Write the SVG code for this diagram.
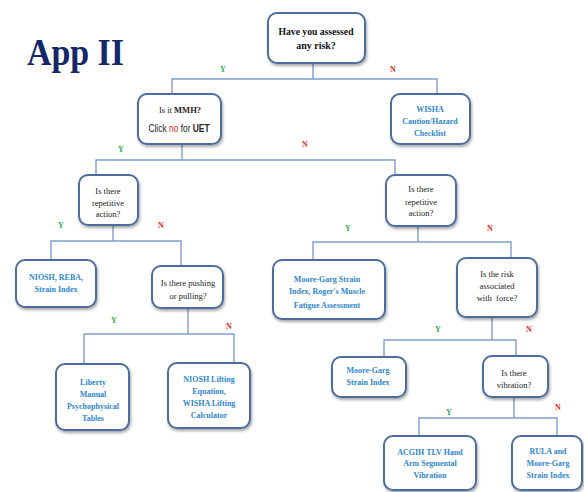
<svg xmlns="http://www.w3.org/2000/svg" width="584" height="492" viewBox="0 0 584 492">
  <defs>
    <filter id="shadow" x="-20%" y="-20%" width="140%" height="150%">
      <feDropShadow dx="1" dy="2" stdDeviation="1.6" flood-color="#000" flood-opacity="0.35"/>
    </filter>
  </defs>
  <style>
    .box { fill: #ffffff; stroke: #4d6d9c; stroke-width: 2; filter: url(#shadow); }
    .wire { stroke: #7f9fcf; stroke-width: 1.4; fill: none; }
    .q { font-family: "Liberation Serif", "Times New Roman", serif; font-size: 8.5px; fill: #222222; text-anchor: middle; }
    .tool { font-family: "Liberation Serif", "Times New Roman", serif; font-size: 8px; font-weight: bold; fill: #2f86d0; text-anchor: middle; }
    .y { font-family: "Liberation Serif", serif; font-size: 8px; font-weight: bold; fill: #2eb04f; text-anchor: middle; }
    .n { font-family: "Liberation Serif", serif; font-size: 8px; font-weight: bold; fill: #ee2a2a; text-anchor: middle; }
    .uet { font-family: "Liberation Sans", Arial, sans-serif; font-size: 10.5px; fill: #222222; text-anchor: middle; }
    .red { fill: #ee2222; }
  </style>
  <rect width="584" height="492" fill="#ffffff"/>

  <!-- title -->
  <text x="27" y="65" font-family="Liberation Serif, Times New Roman, serif" font-size="37" font-weight="bold" fill="#13276a" textLength="97" lengthAdjust="spacingAndGlyphs">App II</text>

  <!-- connectors -->
  <g id="connectors">
    <path class="wire" d="M313 63V79M172 94V79H437V94"/>
    <path class="wire" d="M182 144V160M96 175V160H395V175"/>
    <path class="wire" d="M113 225V241M51 260V241H181V266"/>
    <path class="wire" d="M188 308V334M84 364V334H234V363"/>
    <path class="wire" d="M418 226V242M313 260V242H511V258"/>
    <path class="wire" d="M492 317V340M384 357V340H516V356"/>
    <path class="wire" d="M514 397V418M419 436V418H557V436"/>
    <text class="y" x="223" y="72">Y</text>
    <text class="n" x="393" y="72">N</text>
    <text class="y" x="121" y="152">Y</text>
    <text class="n" x="305" y="147">N</text>
    <text class="y" x="61" y="228">Y</text>
    <text class="n" x="161" y="228">N</text>
    <text class="y" x="114" y="323">Y</text>
    <text class="n" x="229" y="329">N</text>
    <text class="y" x="348" y="231">Y</text>
    <text class="n" x="490" y="231">N</text>
    <text class="y" x="438" y="332">Y</text>
    <text class="n" x="529" y="332">N</text>
    <text class="y" x="449" y="415">Y</text>
    <text class="n" x="558" y="410">N</text>
  </g>

  <!-- decision and tool nodes -->
  <g id="n-assessed">
    <rect class="box" x="268" y="13" width="97" height="50" rx="9"/>
    <text x="316" y="35" font-family="Liberation Serif, serif" font-size="10" font-weight="bold" fill="#111111" text-anchor="middle" textLength="75" lengthAdjust="spacingAndGlyphs">Have you assessed</text>
    <text x="316" y="49" font-family="Liberation Serif, serif" font-size="10" font-weight="bold" fill="#111111" text-anchor="middle">any risk?</text>
  </g>

  <g id="n-mmh">
    <rect class="box" x="138" y="94" width="83" height="50" rx="9"/>
    <text class="q" x="180" y="113" font-size="8">Is it <tspan font-weight="bold">MMH?</tspan></text>
    <!-- sans line drawn narrow, like a condensed face -->
    <text class="uet" transform="translate(179 131.5) scale(0.8 1)">Click <tspan class="red">no</tspan> for <tspan font-weight="bold">UET</tspan></text>
  </g>

  <g id="n-wisha">
    <rect class="box" x="391" y="94" width="79" height="50" rx="9"/>
    <text class="tool" x="430" y="112">WISHA</text>
    <text class="tool" x="430" y="124">Caution/Hazard</text>
    <text class="tool" x="430" y="136">Checklist</text>
  </g>

  <g id="n-repetitive-a">
    <rect class="box" x="79" y="175" width="59" height="50" rx="9"/>
    <text class="q" x="108" y="193.5">Is there</text>
    <text class="q" x="108" y="205.5">repetitive</text>
    <text class="q" x="108" y="217">action?</text>
  </g>

  <g id="n-repetitive-b">
    <rect class="box" x="386" y="175" width="70" height="51" rx="9"/>
    <text class="q" x="421" y="192">Is there</text>
    <text class="q" x="421" y="205">repetitive</text>
    <text class="q" x="421" y="216">action?</text>
  </g>

  <g id="n-niosh-reba">
    <rect class="box" x="16" y="260" width="80" height="47" rx="9"/>
    <text class="tool" x="56" y="280">NIOSH, REBA,</text>
    <text class="tool" x="56" y="292">Strain Index</text>
  </g>

  <g id="n-pushing">
    <rect class="box" x="152" y="266" width="71" height="42" rx="9"/>
    <text class="q" x="188" y="286">Is there pushing</text>
    <text class="q" x="188" y="299">or pulling?</text>
  </g>

  <g id="n-liberty">
    <rect class="box" x="56" y="364" width="73" height="66" rx="9"/>
    <text class="tool" x="93" y="385">Liberty</text>
    <text class="tool" x="93" y="397">Manual</text>
    <text class="tool" x="93" y="409">Psychophysical</text>
    <text class="tool" x="93" y="421">Tables</text>
  </g>

  <g id="n-niosh-lifting">
    <rect class="box" x="168" y="363" width="82" height="65" rx="9"/>
    <text class="tool" x="209" y="382">NIOSH Lifting</text>
    <text class="tool" x="209" y="394">Equation,</text>
    <text class="tool" x="209" y="406">WISHA Lifting</text>
    <text class="tool" x="209" y="418">Calculator</text>
  </g>

  <g id="n-moore-roger">
    <rect class="box" x="273" y="260" width="112" height="59" rx="9"/>
    <text class="tool" x="327" y="282">Moore-Garg Strain</text>
    <text class="tool" x="327" y="294">Index, Roger's Muscle</text>
    <text class="tool" x="327" y="308">Fatigue Assessment</text>
  </g>

  <g id="n-force">
    <rect class="box" x="457" y="258" width="80" height="59" rx="9"/>
    <text class="q" x="497" y="277">Is the risk</text>
    <text class="q" x="497" y="289">associated</text>
    <text class="q" x="497" y="301" xml:space="preserve">with  force?</text>
  </g>

  <g id="n-moore-garg">
    <rect class="box" x="332" y="357" width="74" height="40" rx="9"/>
    <text class="tool" x="368" y="373">Moore-Garg</text>
    <text class="tool" x="368" y="385">Strain Index</text>
  </g>

  <g id="n-vibration">
    <rect class="box" x="483" y="356" width="65" height="41" rx="9"/>
    <text class="q" x="514" y="376">Is there</text>
    <text class="q" x="514" y="388">vibration?</text>
  </g>

  <g id="n-acgih">
    <rect class="box" x="384" y="436" width="92" height="54" rx="9"/>
    <text class="tool" x="430" y="455">ACGIH TLV Hand</text>
    <text class="tool" x="430" y="466">Arm Segmental</text>
    <text class="tool" x="430" y="478">Vibration</text>
  </g>

  <g id="n-rula">
    <rect class="box" x="512" y="436" width="70" height="54" rx="9"/>
    <text class="tool" x="548" y="454">RULA and</text>
    <text class="tool" x="548" y="466">Moore-Garg</text>
    <text class="tool" x="548" y="478">Strain Index</text>
  </g>
</svg>
